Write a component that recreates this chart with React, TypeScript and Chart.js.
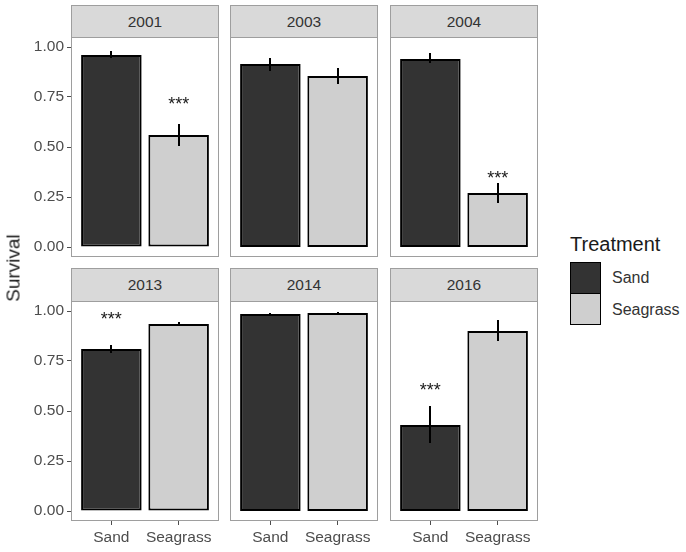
import React, { useEffect, useRef } from 'react';
import { Chart, registerables } from 'chart.js';

Chart.register(...registerables);

// ---- data ----
const years = ['2001', '2003', '2004', '2013', '2014', '2016'];
const treatments = ['Sand', 'Seagrass'];
const sandMean = [0.96, 0.915, 0.94, 0.81, 0.985, 0.43];
const sandLower = [0.945, 0.88, 0.92, 0.79, 0.98, 0.34];
const sandUpper = [0.98, 0.945, 0.97, 0.83, 0.99, 0.525];
const seagrassMean = [0.56, 0.855, 0.27, 0.935, 0.99, 0.9];
const seagrassLower = [0.505, 0.815, 0.22, 0.925, 0.985, 0.85];
const seagrassUpper = [0.615, 0.895, 0.32, 0.945, 0.995, 0.955];
const sandSig = ['', '', '', '***', '', '***'];
const sandSigPos = [0, 0, 0, 0.98, 0, 0.625];
const seagrassSig = ['***', '', '***', '', '', ''];
const seagrassSigPos = [0.735, 0, 0.365, 0, 0, 0];
const yTickValues = [0, 0.25, 0.5, 0.75, 1];
const yTickLabels = ['0.00', '0.25', '0.50', '0.75', '1.00'];

// ---- style / layout ----
const FONT = '"Liberation Sans", Arial, Helvetica, sans-serif';
const SAND_COLOR = '#333333';
const SEAGRASS_COLOR = '#cfcfcf';
const PANEL_BORDER = '#9e9e9e';
const AXIS_TEXT = '#4d4d4d';
const COL_LEFT = [71, 230, 390];
const PANEL_W = 148;
const ROW_TOP = [37, 301];
const PANEL_H = 220;
const STRIPS = [
  { top: 5, h: 33 },
  { top: 268, h: 34 },
];
const Y_AXIS_W = 71;
const X_AXIS_H = 31;

const decorPlugin = {
  id: 'panelDecor',
  afterDatasetsDraw(chart: any, _args: any, opts: any) {
    const i = opts.idx;
    const { ctx, chartArea } = chart;
    const x = chart.scales.x;
    const y = chart.scales.y;
    ctx.save();
    // error bars
    ctx.strokeStyle = '#000';
    ctx.lineWidth = 2;
    const bars = [
      [sandLower[i], sandUpper[i]],
      [seagrassLower[i], seagrassUpper[i]],
    ];
    bars.forEach(([lo, hi], k) => {
      const px = Math.round(x.getPixelForValue(k + 1));
      ctx.beginPath();
      ctx.moveTo(px, y.getPixelForValue(lo));
      ctx.lineTo(px, y.getPixelForValue(hi));
      ctx.stroke();
    });
    // significance stars
    const fs = 18;
    ctx.font = `${fs}px ${FONT}`;
    ctx.fillStyle = '#1a1a1a';
    ctx.textAlign = 'center';
    ctx.textBaseline = 'alphabetic';
    const sigs = [
      [sandSig[i], sandSigPos[i]],
      [seagrassSig[i], seagrassSigPos[i]],
    ];
    sigs.forEach(([txt, pos], k) => {
      if (!txt) return;
      const px = x.getPixelForValue(k + 1);
      const py = y.getPixelForValue(pos as number);
      ctx.fillText(txt as string, px, py + 0.57 * fs);
    });
    // panel border
    ctx.strokeStyle = PANEL_BORDER;
    ctx.lineWidth = 1;
    ctx.strokeRect(
      chartArea.left + 0.5,
      chartArea.top + 0.5,
      chartArea.right - chartArea.left - 1,
      chartArea.bottom - chartArea.top - 1
    );
    ctx.restore();
  },
};

function Panel({ idx }: { idx: number }) {
  const ref = useRef<HTMLCanvasElement | null>(null);
  const row = Math.floor(idx / 3);
  const col = idx % 3;
  const showY = col === 0;
  const showX = row === 1;
  const left = COL_LEFT[col] - (showY ? Y_AXIS_W : 0);
  const width = PANEL_W + (showY ? Y_AXIS_W : 0);
  const top = ROW_TOP[row];
  const height = PANEL_H + (showX ? X_AXIS_H : 0);

  useEffect(() => {
    if (!ref.current) return;
    const chart = new Chart(ref.current, {
      type: 'bar',
      data: {
        datasets: [
          {
            data: [
              { x: 1, y: sandMean[idx] },
              { x: 2, y: seagrassMean[idx] },
            ],
            backgroundColor: [SAND_COLOR, SEAGRASS_COLOR],
            borderColor: '#000',
            borderWidth: 2,
            borderSkipped: false,
            barPercentage: 0.9,
            categoryPercentage: 1,
          } as any,
        ],
      },
      options: {
        animation: false,
        responsive: false,
        maintainAspectRatio: false,
        devicePixelRatio: 1,
        layout: { padding: 0 },
        plugins: {
          legend: { display: false },
          tooltip: { enabled: false },
          title: { display: false },
          panelDecor: { idx },
        } as any,
        scales: {
          x: {
            type: 'linear',
            min: 0.4,
            max: 2.6,
            offset: false,
            display: showX,
            grid: {
              display: true,
              offset: false,
              drawOnChartArea: false,
              drawTicks: true,
              tickLength: 4,
              color: AXIS_TEXT,
              lineWidth: 1,
            },
            border: { display: false },
            afterBuildTicks: (s: any) => {
              s.ticks = [{ value: 1 }, { value: 2 }];
            },
            afterFit: (s: any) => {
              s.height = showX ? X_AXIS_H : 0;
              s.paddingLeft = 0;
              s.paddingRight = 0;
            },
            ticks: {
              autoSkip: false,
              maxRotation: 0,
              padding: 3,
              color: AXIS_TEXT,
              font: { family: FONT, size: 15.5 },
              callback: (_v: any, i: number) => treatments[i],
            },
          } as any,
          y: {
            type: 'linear',
            min: -0.05,
            max: 1.05,
            display: showY,
            grid: {
              display: true,
              drawOnChartArea: false,
              drawTicks: true,
              tickLength: 4,
              color: AXIS_TEXT,
              lineWidth: 1,
            },
            border: { display: false },
            afterBuildTicks: (s: any) => {
              s.ticks = yTickValues.map((v) => ({ value: v }));
            },
            afterFit: (s: any) => {
              s.width = showY ? Y_AXIS_W : 0;
              s.paddingTop = 0;
              s.paddingBottom = 0;
            },
            ticks: {
              autoSkip: false,
              padding: 3,
              color: AXIS_TEXT,
              font: { family: FONT, size: 15.5 },
              callback: (_v: any, i: number) => yTickLabels[i],
            },
          } as any,
        },
      },
      plugins: [decorPlugin],
    });
    return () => chart.destroy();
  }, [idx]);

  const strip = STRIPS[row];
  return (
    <>
      <canvas
        ref={ref}
        width={width}
        height={height}
        style={{ position: 'absolute', left, top, width, height }}
      />
      <div
        style={{
          position: 'absolute',
          left: COL_LEFT[col],
          top: strip.top,
          width: PANEL_W,
          height: strip.h,
          boxSizing: 'border-box',
          background: '#d9d9d9',
          border: `1px solid ${PANEL_BORDER}`,
          display: 'flex',
          alignItems: 'center',
          justifyContent: 'center',
          fontFamily: FONT,
          fontSize: 15.5,
          color: '#333',
        }}
      >
        {years[idx]}
      </div>
    </>
  );
}

export default function App() {
  return (
    <div
      style={{
        position: 'fixed',
        left: 0,
        top: 0,
        width: 686,
        height: 552,
        background: '#fff',
        overflow: 'hidden',
        fontFamily: FONT,
      }}
    >
      {years.map((_, i) => (
        <Panel key={i} idx={i} />
      ))}
      {/* y axis title */}
      <div
        style={{
          position: 'absolute',
          left: 13,
          top: 268,
          transform: 'translate(-50%, -50%) rotate(-90deg)',
          fontSize: 19,
          color: '#1a1a1a',
          whiteSpace: 'nowrap',
          lineHeight: '19px',
        }}
      >
        Survival
      </div>
      {/* legend */}
      <div
        style={{
          position: 'absolute',
          left: 570,
          top: 234,
          fontSize: 20,
          lineHeight: '20px',
          color: '#1a1a1a',
          whiteSpace: 'nowrap',
        }}
      >
        Treatment
      </div>
      {treatments.map((t, k) => (
        <React.Fragment key={t}>
          <div
            style={{
              position: 'absolute',
              left: 570,
              top: 262 + k * 31,
              width: 31,
              height: 32,
              boxSizing: 'border-box',
              background: k === 0 ? SAND_COLOR : SEAGRASS_COLOR,
              border: '1.5px solid #000',
            }}
          />
          <div
            style={{
              position: 'absolute',
              left: 612,
              top: 262 + k * 32 + 16 - 10,
              height: 20,
              lineHeight: '20px',
              fontSize: 16,
              color: '#333',
              whiteSpace: 'nowrap',
            }}
          >
            {t}
          </div>
        </React.Fragment>
      ))}
    </div>
  );
}
